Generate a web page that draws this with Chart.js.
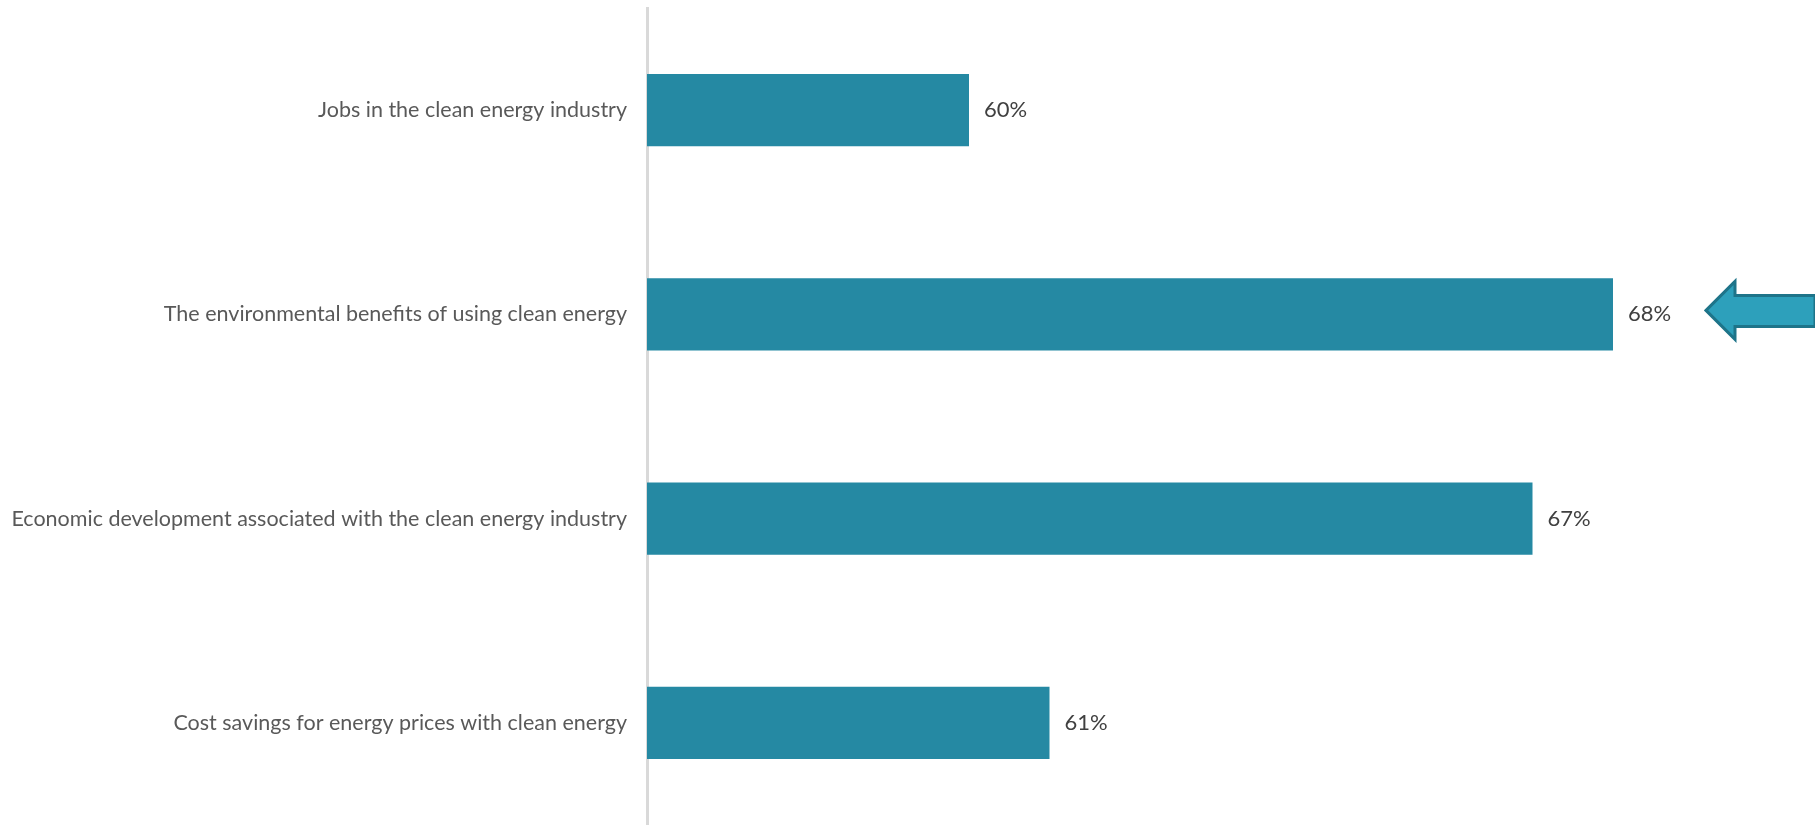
<!DOCTYPE html>
<html>
<head>
<meta charset="utf-8">
<title>Clean energy benefits</title>
<script src="https://cdn.jsdelivr.net/npm/chart.js@4/dist/chart.umd.min.js"></script>
<style>
    html, body { margin: 0; padding: 0; background: #ffffff; }
    canvas { display: block; }
</style>
</head>
<body>
<canvas id="barChart" width="1815" height="825"></canvas>
<script>
// Chart data
const categories = [
    'Jobs in the clean energy industry',
    'The environmental benefits of using clean energy',
    'Economic development associated with the clean energy industry',
    'Cost savings for energy prices with clean energy'
];
const percentValues = [60, 68, 67, 61];
const highlightIndex = 1; // the bar the arrow points at

// Value labels drawn at the end of every bar
const valueLabels = {
    id: 'valueLabels',
    afterDatasetsDraw(chart) {
        const ctx = chart.ctx;
        const meta = chart.getDatasetMeta(0);
        ctx.save();
        ctx.font = '22px Lato';
        ctx.fillStyle = '#404040';
        ctx.textAlign = 'left';
        ctx.textBaseline = 'middle';
        meta.data.forEach((bar, i) => {
            ctx.fillText(percentValues[i] + '%', bar.x + 15, bar.y);
        });
        ctx.restore();
    }
};

// Callout arrow next to the highlighted bar
const calloutArrow = {
    id: 'calloutArrow',
    afterDraw(chart) {
        const bar = chart.getDatasetMeta(0).data[highlightIndex];
        const ctx = chart.ctx;
        const tipX = bar.x + 93;
        const cy = bar.y - 4;
        ctx.save();
        ctx.beginPath();
        ctx.moveTo(tipX, cy);
        ctx.lineTo(tipX + 29, cy - 29);
        ctx.lineTo(tipX + 29, cy - 15);
        ctx.lineTo(tipX + 109, cy - 15);
        ctx.lineTo(tipX + 109, cy + 16);
        ctx.lineTo(tipX + 29, cy + 16);
        ctx.lineTo(tipX + 29, cy + 29);
        ctx.closePath();
        ctx.fillStyle = '#2da0bb';
        ctx.fill();
        ctx.lineWidth = 3;
        ctx.lineJoin = 'miter';
        ctx.strokeStyle = '#1e7489';
        ctx.stroke();
        ctx.restore();
    }
};

document.addEventListener('DOMContentLoaded', function() {
    const ctx = document.getElementById('barChart').getContext('2d');
    new Chart(ctx, {
        type: 'bar',
        data: {
            labels: categories,
            datasets: [{
                label: 'Share',
                data: percentValues,
                backgroundColor: '#2589a3',
                borderWidth: 0,
                barPercentage: 0.353,
                categoryPercentage: 1
            }]
        },
        options: {
            indexAxis: 'y',
            responsive: false,
            animation: false,
            layout: {
                padding: { top: 8, right: 41, bottom: 0, left: 0 }
            },
            plugins: {
                legend: { display: false },
                tooltip: { enabled: false }
            },
            scales: {
                x: {
                    display: false,
                    min: 56,
                    max: 70
                },
                y: {
                    // fixed axis width, and no extra room above/below the bars
                    afterFit(scale) {
                        scale.width = 647;
                        scale.paddingTop = 0;
                        scale.paddingBottom = 0;
                    },
                    grid: { display: false, drawTicks: false },
                    border: { display: true, width: 3, color: '#d9d9d9' },
                    ticks: {
                        padding: 20,
                        color: '#595959',
                        font: { family: 'Lato', size: 21.5 }
                    }
                }
            }
        },
        plugins: [valueLabels, calloutArrow]
    });
});
</script>
</body>
</html>
